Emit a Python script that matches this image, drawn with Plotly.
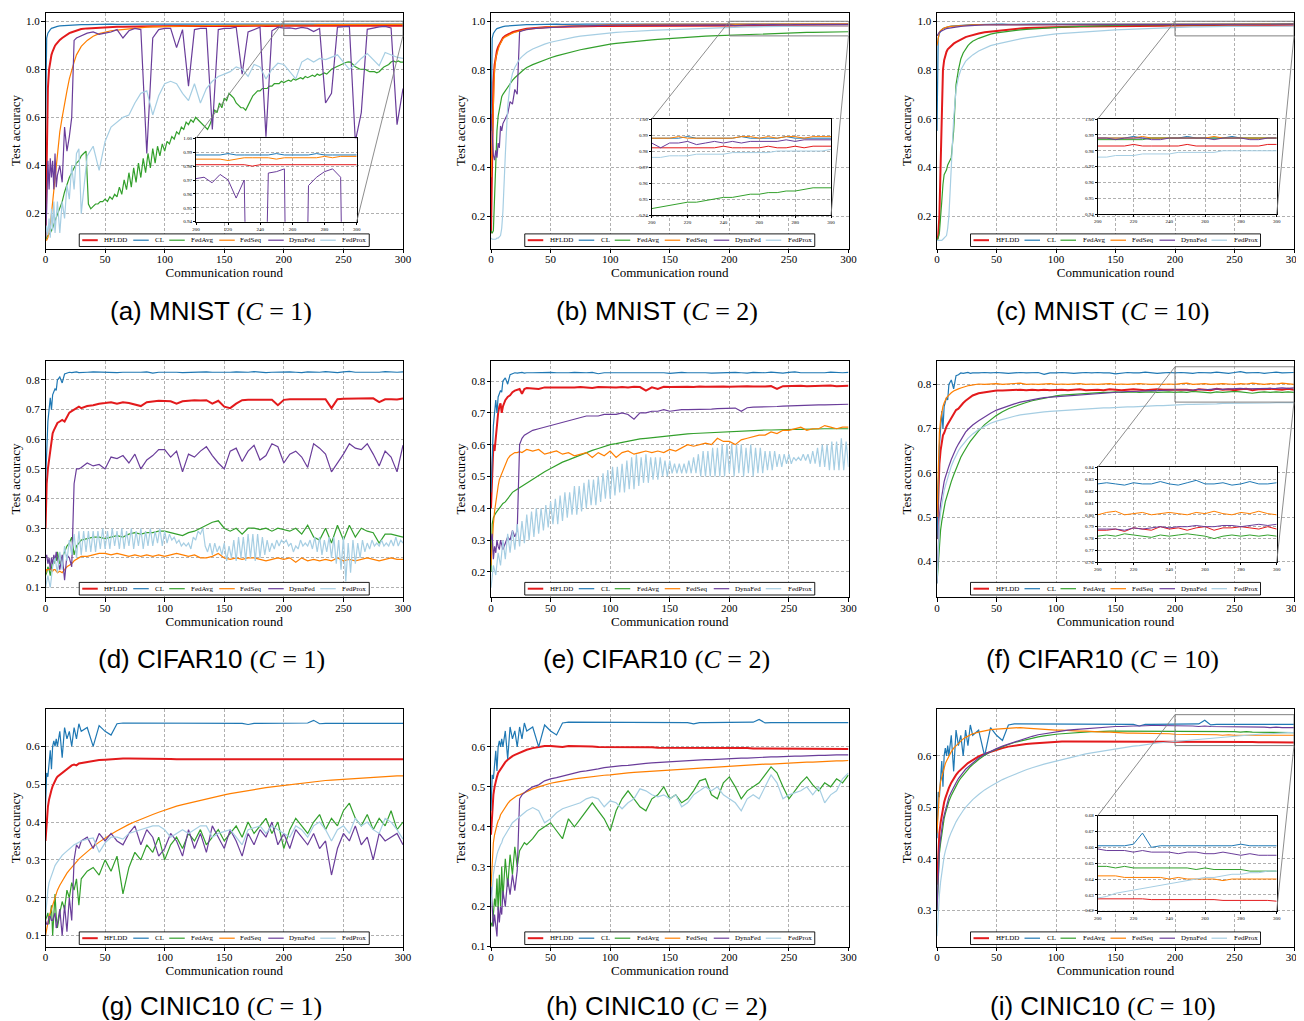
import plotly.graph_objects as go

# ---------------- data ----------------
ROUNDS = list(range(0, 11)) + list(range(12, 31, 2)) + list(range(35, 301, 5))
ROUNDS_DENSE = list(range(0, 301, 2))   # used by the strongly oscillating series

SERIES = ["HFLDD", "CL", "FedAvg", "FedSeq", "DynaFed", "FedProx"]
COLORS = ["#e31a1c", "#1f78b4", "#33a02c", "#ff7f00", "#6a3d9a", "#a6cee3"]
WIDTHS = [2.0, 1.2, 1.2, 1.2, 1.2, 1.2]

X_TICKS = [0, 50, 100, 150, 200, 250, 300]
INSET_X_TICKS = [200, 220, 240, 260, 280, 300]

# ---- MNIST ----
cl_mnist = [
    0.55, 0.93, 0.95, 0.96, 0.965, 0.97, 0.972, 0.974, 0.976, 0.977, 0.978,
    0.980, 0.981, 0.982, 0.983, 0.984, 0.984, 0.985, 0.985, 0.986, 0.986,
    0.986, 0.987, 0.987, 0.987, 0.988, 0.987, 0.988, 0.988, 0.988, 0.988, 0.988, 0.988, 0.988, 0.988,
    0.988, 0.988, 0.989, 0.988, 0.988, 0.988, 0.989, 0.988, 0.988, 0.988, 0.988, 0.989, 0.988, 0.988, 0.988, 0.988, 0.988, 0.989, 0.988, 0.988,
    0.988, 0.988, 0.988, 0.989, 0.988, 0.988, 0.988, 0.988, 0.988, 0.989, 0.988, 0.988, 0.988, 0.988, 0.989, 0.988, 0.988, 0.988, 0.988, 0.988,
]
a_hfldd = [
    0.10, 0.50, 0.72, 0.80, 0.84, 0.86, 0.875, 0.888, 0.898, 0.905, 0.912,
    0.922, 0.930, 0.937, 0.943, 0.950, 0.954, 0.958, 0.961, 0.964, 0.967,
    0.970, 0.972, 0.974, 0.975, 0.976, 0.977, 0.977, 0.978, 0.978, 0.979, 0.979, 0.979, 0.979, 0.980,
    0.980, 0.980, 0.980, 0.980, 0.981, 0.980, 0.981, 0.980, 0.981, 0.981, 0.981, 0.980, 0.981, 0.981, 0.981, 0.981, 0.980, 0.981, 0.981, 0.981,
    0.981, 0.981, 0.981, 0.981, 0.981, 0.981, 0.980, 0.981, 0.981, 0.981, 0.981, 0.981, 0.981, 0.981, 0.981, 0.981, 0.981, 0.981, 0.981, 0.981,
]
a_fedavg = [  # every 2 rounds
    0.09, 0.11, 0.12, 0.14, 0.17, 0.20, 0.23, 0.25, 0.29, 0.32,
    0.35, 0.37, 0.39, 0.41, 0.42, 0.44, 0.45, 0.46, 0.24, 0.22,
    0.23, 0.24, 0.24, 0.25, 0.25, 0.26, 0.25, 0.27, 0.26, 0.28,
    0.27, 0.31, 0.28, 0.34, 0.30, 0.37, 0.31, 0.39, 0.33, 0.41,
    0.35, 0.43, 0.37, 0.45, 0.39, 0.47, 0.41, 0.48, 0.44, 0.49,
    0.46, 0.50, 0.49, 0.52, 0.51, 0.54, 0.53, 0.56, 0.55, 0.58,
    0.57, 0.59, 0.58, 0.60, 0.59, 0.58, 0.57, 0.56, 0.55, 0.57,
    0.60, 0.63, 0.62, 0.66, 0.64, 0.68, 0.67, 0.70, 0.69, 0.68,
    0.66, 0.65, 0.64, 0.64, 0.63, 0.65, 0.67, 0.69, 0.70, 0.71,
    0.71, 0.72, 0.72, 0.72, 0.73, 0.73, 0.74, 0.74, 0.74, 0.75,
    0.745, 0.75, 0.755, 0.75, 0.76, 0.755, 0.76, 0.765, 0.76, 0.77,
    0.765, 0.77, 0.775, 0.77, 0.78, 0.775, 0.78, 0.785, 0.78, 0.79,
    0.80, 0.805, 0.81, 0.815, 0.82, 0.824, 0.828, 0.831, 0.83, 0.82,
    0.81, 0.805, 0.80, 0.80, 0.80, 0.795, 0.79, 0.79, 0.79, 0.785,
    0.79, 0.80, 0.81, 0.815, 0.82, 0.83, 0.835, 0.83, 0.835, 0.83,
    0.83,
]
a_fedseq = [
    0.09, 0.09, 0.10, 0.12, 0.15, 0.20, 0.25, 0.31, 0.37, 0.42, 0.47,
    0.54, 0.60, 0.66, 0.71, 0.76, 0.80, 0.83, 0.86, 0.88, 0.895,
    0.920, 0.937, 0.948, 0.955, 0.960, 0.963, 0.966, 0.969, 0.971, 0.973, 0.975, 0.976, 0.977, 0.978,
    0.979, 0.979, 0.980, 0.980, 0.981, 0.981, 0.982, 0.982, 0.982, 0.983, 0.983, 0.983, 0.984, 0.984, 0.984, 0.984, 0.985, 0.985, 0.985, 0.985,
    0.985, 0.985, 0.985, 0.984, 0.985, 0.986, 0.986, 0.986, 0.986, 0.985, 0.986, 0.986, 0.986, 0.986, 0.986, 0.987, 0.986, 0.987, 0.987, 0.987,
]
a_dynafed = [
    0.10, 0.22, 0.42, 0.30, 0.43, 0.35, 0.42, 0.30, 0.45, 0.31, 0.36,
    0.40, 0.33, 0.56, 0.46, 0.52, 0.60, 0.92, 0.93, 0.935, 0.94,
    0.95, 0.955, 0.945, 0.95, 0.955, 0.965, 0.93, 0.96, 0.97, 0.965, 0.45, 0.93, 0.965, 0.97,
    0.97, 0.89, 0.965, 0.73, 0.965, 0.97, 0.97, 0.55, 0.965, 0.97, 0.97, 0.975, 0.78, 0.955, 0.965, 0.975, 0.52, 0.96, 0.975, 0.971,
    0.972, 0.968, 0.974, 0.970, 0.957, 0.970, 0.66, 0.70, 0.975, 0.976, 0.978, 0.50, 0.62, 0.966, 0.972, 0.976, 0.978, 0.972, 0.57, 0.72,
]
a_fedprox = [
    0.10, 0.15, 0.11, 0.18, 0.10, 0.22, 0.13, 0.25, 0.12, 0.20, 0.25,
    0.12, 0.25, 0.18, 0.32, 0.26, 0.40, 0.30, 0.45, 0.47, 0.20,
    0.44, 0.48, 0.38, 0.50, 0.56, 0.58, 0.60, 0.61, 0.66, 0.70, 0.71, 0.61, 0.69, 0.74,
    0.75, 0.74, 0.70, 0.67, 0.74, 0.66, 0.72, 0.75, 0.77, 0.78, 0.79, 0.81, 0.80, 0.77, 0.82, 0.81, 0.76, 0.80, 0.825, 0.82,
    0.79, 0.76, 0.83, 0.845, 0.83, 0.845, 0.84, 0.85, 0.86, 0.83, 0.80, 0.82, 0.845, 0.865, 0.84, 0.815, 0.87, 0.86, 0.85, 0.845,
]

b_hfldd = [
    0.13, 0.55, 0.75, 0.82, 0.86, 0.88, 0.895, 0.905, 0.915, 0.925, 0.932,
    0.940, 0.946, 0.951, 0.955, 0.958, 0.961, 0.963, 0.965, 0.967, 0.969,
    0.972, 0.974, 0.975, 0.976, 0.977, 0.978, 0.979, 0.979, 0.980, 0.980, 0.981, 0.981, 0.981, 0.981,
    0.981, 0.981, 0.982, 0.982, 0.982, 0.982, 0.982, 0.982, 0.982, 0.982, 0.982, 0.982, 0.982, 0.982, 0.982, 0.982, 0.982, 0.982, 0.982, 0.982,
    0.982, 0.982, 0.982, 0.982, 0.982, 0.982, 0.982, 0.983, 0.982, 0.982, 0.982, 0.982, 0.983, 0.982, 0.982, 0.983, 0.982, 0.983, 0.983, 0.983,
]
b_fedavg = [
    0.14, 0.13, 0.14, 0.30, 0.45, 0.55, 0.61, 0.64, 0.67, 0.69, 0.70,
    0.715, 0.73, 0.745, 0.757, 0.768, 0.778, 0.787, 0.795, 0.803, 0.81,
    0.822, 0.832, 0.841, 0.850, 0.858, 0.865, 0.871, 0.877, 0.883, 0.888, 0.893, 0.898, 0.902, 0.906,
    0.909, 0.912, 0.915, 0.918, 0.920, 0.922, 0.924, 0.926, 0.928, 0.930, 0.932, 0.934, 0.935, 0.937, 0.938, 0.939, 0.940, 0.941, 0.942, 0.944,
    0.945, 0.946, 0.947, 0.948, 0.948, 0.949, 0.950, 0.951, 0.951, 0.952, 0.953, 0.953, 0.954, 0.954, 0.955, 0.955, 0.956, 0.957, 0.957, 0.957,
]
b_fedseq = [
    0.36, 0.50, 0.70, 0.80, 0.85, 0.87, 0.89, 0.90, 0.91, 0.92, 0.928,
    0.936, 0.942, 0.947, 0.951, 0.955, 0.958, 0.961, 0.963, 0.965, 0.967,
    0.970, 0.973, 0.975, 0.977, 0.978, 0.979, 0.980, 0.981, 0.982, 0.983, 0.983, 0.984, 0.985, 0.985,
    0.985, 0.986, 0.986, 0.986, 0.987, 0.987, 0.987, 0.987, 0.987, 0.988, 0.988, 0.988, 0.988, 0.988, 0.988, 0.988, 0.988, 0.988, 0.988, 0.988,
    0.988, 0.988, 0.989, 0.988, 0.988, 0.988, 0.988, 0.988, 0.988, 0.989, 0.989, 0.988, 0.989, 0.988, 0.989, 0.989, 0.988, 0.989, 0.989, 0.989,
]
b_dynafed = [
    0.62, 0.50, 0.45, 0.43, 0.47, 0.44, 0.50, 0.48, 0.57, 0.55, 0.58,
    0.60, 0.62, 0.67, 0.66, 0.72, 0.70, 0.957, 0.960, 0.963, 0.966,
    0.970, 0.972, 0.974, 0.976, 0.977, 0.978, 0.979, 0.980, 0.981, 0.981, 0.982, 0.983, 0.983, 0.984,
    0.984, 0.984, 0.984, 0.985, 0.985, 0.985, 0.985, 0.985, 0.985, 0.985, 0.986, 0.985, 0.986, 0.986, 0.986, 0.986, 0.986, 0.986, 0.985, 0.985,
    0.982, 0.985, 0.985, 0.986, 0.984, 0.985, 0.986, 0.985, 0.986, 0.985, 0.986, 0.986, 0.986, 0.986, 0.987, 0.986, 0.987, 0.987, 0.987, 0.987,
]
b_fedprox = [
    0.11, 0.105, 0.105, 0.105, 0.105, 0.11, 0.11, 0.115, 0.12, 0.15, 0.22,
    0.45, 0.65, 0.74, 0.785, 0.81, 0.83, 0.845, 0.855, 0.865, 0.872,
    0.886, 0.897, 0.906, 0.914, 0.920, 0.926, 0.931, 0.935, 0.939, 0.942, 0.945, 0.948, 0.950, 0.952,
    0.954, 0.956, 0.958, 0.959, 0.961, 0.962, 0.963, 0.964, 0.965, 0.966, 0.967, 0.968, 0.969, 0.970, 0.971, 0.972, 0.973, 0.974, 0.975, 0.976,
    0.976, 0.977, 0.977, 0.977, 0.978, 0.978, 0.978, 0.978, 0.979, 0.979, 0.979, 0.979, 0.979, 0.980, 0.980, 0.980, 0.980, 0.980, 0.980, 0.981,
]

c_hfldd = [
    0.10, 0.12, 0.20, 0.45, 0.70, 0.80, 0.84, 0.86, 0.875, 0.885, 0.89,
    0.90, 0.908, 0.914, 0.92, 0.925, 0.93, 0.935, 0.938, 0.941, 0.944,
    0.950, 0.955, 0.958, 0.961, 0.964, 0.966, 0.968, 0.970, 0.972, 0.973, 0.974, 0.975, 0.976, 0.977,
    0.977, 0.978, 0.978, 0.979, 0.979, 0.979, 0.980, 0.980, 0.980, 0.981, 0.981, 0.981, 0.981, 0.982, 0.982, 0.982, 0.982, 0.982, 0.983, 0.983,
    0.983, 0.983, 0.983, 0.984, 0.983, 0.983, 0.983, 0.983, 0.983, 0.984, 0.983, 0.983, 0.983, 0.983, 0.983, 0.983, 0.983, 0.983, 0.984, 0.984,
]
c_fedavg = [
    0.10, 0.11, 0.13, 0.18, 0.26, 0.33, 0.37, 0.38, 0.39, 0.41, 0.42,
    0.44, 0.55, 0.74, 0.80, 0.845, 0.87, 0.887, 0.90, 0.91, 0.918,
    0.930, 0.940, 0.947, 0.952, 0.956, 0.959, 0.962, 0.965, 0.967, 0.969, 0.971, 0.973, 0.974, 0.975,
    0.976, 0.977, 0.978, 0.979, 0.980, 0.981, 0.981, 0.982, 0.983, 0.983, 0.984, 0.984, 0.985, 0.985, 0.985, 0.986, 0.986, 0.986, 0.987, 0.987,
    0.987, 0.987, 0.987, 0.987, 0.987, 0.988, 0.988, 0.988, 0.988, 0.988, 0.988, 0.988, 0.988, 0.988, 0.988, 0.988, 0.988, 0.988, 0.988, 0.988,
]
c_fedseq = [
    0.90, 0.94, 0.955, 0.962, 0.966, 0.970, 0.972, 0.974, 0.976, 0.977, 0.978,
    0.979, 0.980, 0.981, 0.982, 0.983, 0.983, 0.984, 0.984, 0.985, 0.985,
    0.986, 0.986, 0.987, 0.987, 0.987, 0.987, 0.988, 0.988, 0.988, 0.988, 0.988, 0.988, 0.988, 0.988,
    0.988, 0.988, 0.988, 0.989, 0.988, 0.988, 0.988, 0.988, 0.988, 0.988, 0.989, 0.988, 0.988, 0.988, 0.988, 0.988, 0.988, 0.989, 0.988, 0.988,
    0.988, 0.988, 0.988, 0.988, 0.989, 0.988, 0.988, 0.988, 0.988, 0.988, 0.988, 0.988, 0.989, 0.988, 0.988, 0.988, 0.988, 0.988, 0.988, 0.988,
]
c_dynafed = [
    0.94, 0.95, 0.955, 0.958, 0.961, 0.964, 0.966, 0.968, 0.970, 0.971, 0.972,
    0.974, 0.976, 0.977, 0.978, 0.979, 0.980, 0.981, 0.982, 0.982, 0.983,
    0.984, 0.985, 0.985, 0.986, 0.986, 0.986, 0.987, 0.987, 0.987, 0.987, 0.987, 0.987, 0.987, 0.987,
    0.987, 0.988, 0.987, 0.988, 0.987, 0.988, 0.988, 0.987, 0.988, 0.988, 0.987, 0.988, 0.988, 0.988, 0.987, 0.988, 0.988, 0.988, 0.987, 0.988,
    0.988, 0.987, 0.988, 0.988, 0.988, 0.987, 0.987, 0.988, 0.988, 0.988, 0.988, 0.988, 0.987, 0.988, 0.988, 0.988, 0.987, 0.987, 0.988, 0.988,
]
c_fedprox = [
    0.10, 0.10, 0.10, 0.10, 0.10, 0.105, 0.11, 0.115, 0.12, 0.15, 0.20,
    0.40, 0.60, 0.72, 0.77, 0.80, 0.82, 0.835, 0.845, 0.855, 0.862,
    0.878, 0.890, 0.900, 0.906, 0.912, 0.918, 0.923, 0.928, 0.932, 0.936, 0.939, 0.942, 0.945, 0.948,
    0.950, 0.952, 0.954, 0.956, 0.958, 0.960, 0.961, 0.962, 0.964, 0.965, 0.966, 0.967, 0.968, 0.969, 0.970, 0.971, 0.972, 0.973, 0.974, 0.976,
    0.976, 0.977, 0.977, 0.977, 0.978, 0.978, 0.978, 0.978, 0.979, 0.979, 0.979, 0.979, 0.979, 0.980, 0.980, 0.980, 0.980, 0.980, 0.980, 0.980,
]

# ---- CIFAR10 ----
cl_cifar = [
    0.45, 0.60, 0.66, 0.70, 0.74, 0.70, 0.75, 0.76, 0.77, 0.765, 0.80,
    0.81, 0.79, 0.82, 0.822, 0.826, 0.825, 0.826, 0.827, 0.825, 0.826,
    0.826, 0.827, 0.826, 0.827, 0.826, 0.825, 0.826, 0.827, 0.826, 0.826, 0.827, 0.823, 0.826, 0.826,
    0.827, 0.826, 0.825, 0.826, 0.827, 0.826, 0.827, 0.826, 0.826, 0.824, 0.826, 0.827, 0.826, 0.826, 0.828, 0.826, 0.825, 0.826, 0.827, 0.826,
    0.827, 0.826, 0.825, 0.827, 0.826, 0.826, 0.828, 0.826, 0.825, 0.827, 0.829, 0.826, 0.826, 0.827, 0.825, 0.826, 0.828, 0.826, 0.826, 0.827,
]
d_hfldd = [
    0.30, 0.45, 0.50, 0.53, 0.56, 0.60, 0.62, 0.63, 0.64, 0.645, 0.655,
    0.66, 0.665, 0.66, 0.675, 0.69, 0.695, 0.70, 0.703, 0.71, 0.705,
    0.712, 0.715, 0.72, 0.722, 0.725, 0.72, 0.725, 0.722, 0.718, 0.712, 0.725, 0.728, 0.73, 0.729,
    0.728, 0.72, 0.728, 0.73, 0.732, 0.731, 0.732, 0.72, 0.73, 0.71, 0.705, 0.72, 0.732, 0.733, 0.733, 0.735, 0.733, 0.733, 0.715, 0.733,
    0.735, 0.735, 0.735, 0.734, 0.736, 0.735, 0.735, 0.705, 0.735, 0.737, 0.737, 0.738, 0.736, 0.737, 0.738, 0.725, 0.735, 0.735, 0.734, 0.738,
]
d_fedavg = [
    0.14, 0.15, 0.17, 0.16, 0.14, 0.17, 0.19, 0.18, 0.20, 0.19, 0.22,
    0.18, 0.20, 0.22, 0.24, 0.25, 0.27, 0.21, 0.24, 0.25, 0.26,
    0.265, 0.27, 0.27, 0.265, 0.27, 0.275, 0.27, 0.28, 0.285, 0.28, 0.285, 0.285, 0.29, 0.29,
    0.285, 0.28, 0.275, 0.285, 0.29, 0.30, 0.31, 0.32, 0.325, 0.30, 0.29, 0.30, 0.28, 0.30, 0.30, 0.295, 0.30, 0.29, 0.30, 0.295,
    0.29, 0.30, 0.28, 0.31, 0.27, 0.26, 0.30, 0.25, 0.31, 0.26, 0.31, 0.27, 0.30, 0.29, 0.285, 0.25, 0.28, 0.28, 0.275, 0.27,
]
d_fedseq = [
    0.15, 0.16, 0.16, 0.16, 0.165, 0.16, 0.155, 0.16, 0.16, 0.155, 0.15,
    0.155, 0.15, 0.16, 0.17, 0.175, 0.18, 0.19, 0.195, 0.20, 0.205,
    0.205, 0.21, 0.215, 0.215, 0.21, 0.215, 0.21, 0.205, 0.21, 0.205, 0.21, 0.205, 0.21, 0.205,
    0.21, 0.215, 0.21, 0.205, 0.21, 0.20, 0.20, 0.205, 0.215, 0.20, 0.195, 0.20, 0.195, 0.20, 0.20, 0.195, 0.19, 0.195, 0.20, 0.195,
    0.20, 0.185, 0.20, 0.19, 0.195, 0.19, 0.195, 0.19, 0.20, 0.19, 0.195, 0.19, 0.195, 0.20, 0.195, 0.19, 0.195, 0.20, 0.195, 0.195,
]
d_dynafed = [
    0.20, 0.21, 0.18, 0.20, 0.16, 0.20, 0.18, 0.21, 0.19, 0.22, 0.20,
    0.16, 0.21, 0.125, 0.21, 0.20, 0.17, 0.45, 0.50, 0.50, 0.505,
    0.52, 0.51, 0.515, 0.50, 0.54, 0.535, 0.545, 0.52, 0.55, 0.50, 0.53, 0.545, 0.565, 0.565,
    0.54, 0.56, 0.49, 0.55, 0.54, 0.56, 0.575, 0.545, 0.52, 0.50, 0.56, 0.57, 0.525, 0.56, 0.58, 0.53, 0.545, 0.585, 0.575, 0.52,
    0.55, 0.56, 0.54, 0.505, 0.585, 0.57, 0.55, 0.49, 0.52, 0.55, 0.585, 0.57, 0.565, 0.585, 0.55, 0.51, 0.56, 0.54, 0.49, 0.58,
]
d_fedprox = [  # every 2 rounds
    0.10, 0.14, 0.10, 0.17, 0.20, 0.15, 0.22, 0.16, 0.24, 0.19,
    0.26, 0.21, 0.28, 0.20, 0.29, 0.21, 0.29, 0.22, 0.29, 0.22,
    0.29, 0.22, 0.29, 0.23, 0.30, 0.23, 0.29, 0.23, 0.30, 0.24,
    0.29, 0.23, 0.30, 0.23, 0.29, 0.24, 0.30, 0.23, 0.29, 0.24,
    0.30, 0.23, 0.29, 0.24, 0.30, 0.24, 0.29, 0.25, 0.30, 0.24,
    0.29, 0.25, 0.28, 0.26, 0.27, 0.25, 0.26, 0.24, 0.25, 0.24,
    0.25, 0.23, 0.27, 0.26, 0.29, 0.28, 0.30, 0.24, 0.22, 0.25,
    0.21, 0.25, 0.22, 0.24, 0.21, 0.25, 0.19, 0.24, 0.20, 0.26,
    0.19, 0.27, 0.20, 0.27, 0.19, 0.28, 0.20, 0.28, 0.19, 0.28,
    0.20, 0.27, 0.21, 0.26, 0.22, 0.25, 0.23, 0.26, 0.24, 0.26,
    0.25, 0.26, 0.24, 0.25, 0.22, 0.24, 0.23, 0.26, 0.24, 0.25,
    0.24, 0.26, 0.23, 0.27, 0.22, 0.27, 0.21, 0.26, 0.22, 0.27,
    0.20, 0.27, 0.18, 0.26, 0.16, 0.27, 0.12, 0.25, 0.15, 0.26,
    0.18, 0.25, 0.20, 0.26, 0.22, 0.25, 0.23, 0.26, 0.24, 0.25,
    0.24, 0.26, 0.24, 0.25, 0.24, 0.26, 0.24, 0.27, 0.24, 0.26,
    0.25,
]

e_hfldd = [
    0.40, 0.50, 0.60, 0.58, 0.62, 0.68, 0.70, 0.72, 0.73, 0.70, 0.72,
    0.74, 0.75, 0.755, 0.765, 0.77, 0.772, 0.775, 0.76, 0.775, 0.778,
    0.777, 0.775, 0.78, 0.78, 0.778, 0.78, 0.779, 0.78, 0.781, 0.78, 0.778, 0.781, 0.78, 0.781,
    0.78, 0.781, 0.78, 0.782, 0.781, 0.77, 0.78, 0.775, 0.782, 0.781, 0.782, 0.783, 0.782, 0.781, 0.783, 0.782, 0.783, 0.782, 0.783, 0.782,
    0.783, 0.782, 0.784, 0.783, 0.782, 0.783, 0.784, 0.775, 0.784, 0.785, 0.784, 0.785, 0.784, 0.785, 0.784, 0.785, 0.786, 0.784, 0.785, 0.785,
]
e_fedavg = [
    0.20, 0.35, 0.37, 0.38, 0.385, 0.39, 0.395, 0.40, 0.405, 0.41, 0.415,
    0.42, 0.43, 0.44, 0.45, 0.455, 0.46, 0.465, 0.47, 0.475, 0.48,
    0.49, 0.505, 0.515, 0.525, 0.535, 0.545, 0.552, 0.56, 0.568, 0.575, 0.582, 0.588, 0.594, 0.60,
    0.603, 0.607, 0.611, 0.615, 0.618, 0.62, 0.622, 0.625, 0.627, 0.63, 0.631, 0.632, 0.634, 0.635, 0.636, 0.638, 0.639, 0.64, 0.641, 0.642,
    0.642, 0.643, 0.644, 0.645, 0.645, 0.646, 0.646, 0.647, 0.647, 0.648, 0.648, 0.648, 0.649, 0.649, 0.649, 0.65, 0.65, 0.65, 0.65, 0.65,
]
e_fedseq = [
    0.22, 0.30, 0.35, 0.39, 0.42, 0.45, 0.47, 0.49, 0.50, 0.51, 0.52,
    0.54, 0.555, 0.565, 0.57, 0.575, 0.575, 0.578, 0.575, 0.58, 0.585,
    0.58, 0.585, 0.57, 0.575, 0.58, 0.57, 0.575, 0.565, 0.57, 0.575, 0.56, 0.575, 0.565, 0.58,
    0.56, 0.575, 0.58, 0.57, 0.575, 0.58, 0.575, 0.58, 0.575, 0.585, 0.58, 0.59, 0.60, 0.595, 0.60, 0.605, 0.60, 0.62, 0.61, 0.61,
    0.60, 0.615, 0.62, 0.625, 0.63, 0.63, 0.64, 0.635, 0.645, 0.645, 0.65, 0.655, 0.645, 0.65, 0.65, 0.66, 0.655, 0.65, 0.655, 0.655,
]
e_dynafed = [
    0.30, 0.32, 0.24, 0.28, 0.26, 0.30, 0.28, 0.27, 0.30, 0.28, 0.27,
    0.29, 0.31, 0.30, 0.33, 0.31, 0.33, 0.60, 0.62, 0.63, 0.635,
    0.645, 0.65, 0.655, 0.66, 0.665, 0.67, 0.675, 0.68, 0.685, 0.69, 0.69, 0.69, 0.695, 0.695,
    0.695, 0.70, 0.695, 0.68, 0.70, 0.70, 0.705, 0.705, 0.71, 0.705, 0.708, 0.71, 0.71, 0.71, 0.711, 0.712, 0.712, 0.713, 0.714, 0.715,
    0.715, 0.705, 0.716, 0.718, 0.718, 0.719, 0.72, 0.72, 0.721, 0.722, 0.722, 0.723, 0.723, 0.724, 0.725, 0.725, 0.726, 0.726, 0.727, 0.727,
]
e_fedprox = [  # every 2 rounds
    0.15, 0.22, 0.19, 0.26, 0.22, 0.30, 0.24, 0.32, 0.26, 0.33,
    0.27, 0.35, 0.28, 0.36, 0.29, 0.38, 0.30, 0.39, 0.31, 0.40,
    0.32, 0.40, 0.33, 0.41, 0.34, 0.42, 0.35, 0.43, 0.35, 0.44,
    0.36, 0.45, 0.37, 0.45, 0.38, 0.47, 0.38, 0.47, 0.39, 0.48,
    0.40, 0.49, 0.41, 0.49, 0.41, 0.50, 0.42, 0.51, 0.43, 0.52,
    0.43, 0.53, 0.44, 0.53, 0.45, 0.54, 0.45, 0.55, 0.46, 0.56,
    0.46, 0.57, 0.47, 0.56, 0.48, 0.57, 0.48, 0.56, 0.49, 0.56,
    0.49, 0.56, 0.50, 0.55, 0.50, 0.55, 0.51, 0.54, 0.51, 0.54,
    0.51, 0.54, 0.51, 0.55, 0.51, 0.56, 0.51, 0.57, 0.50, 0.58,
    0.50, 0.58, 0.50, 0.59, 0.50, 0.59, 0.50, 0.60, 0.50, 0.60,
    0.51, 0.60, 0.50, 0.60, 0.51, 0.60, 0.50, 0.59, 0.51, 0.60,
    0.50, 0.59, 0.51, 0.59, 0.51, 0.58, 0.52, 0.58, 0.52, 0.58,
    0.53, 0.57, 0.53, 0.57, 0.54, 0.57, 0.54, 0.56, 0.55, 0.56,
    0.55, 0.57, 0.55, 0.57, 0.54, 0.58, 0.54, 0.59, 0.53, 0.60,
    0.53, 0.60, 0.52, 0.61, 0.52, 0.61, 0.52, 0.62, 0.52, 0.61,
    0.53,
]

f_hfldd = [
    0.45, 0.56, 0.62, 0.65, 0.67, 0.685, 0.69, 0.70, 0.705, 0.71, 0.715,
    0.725, 0.735, 0.742, 0.745, 0.752, 0.758, 0.763, 0.767, 0.772, 0.775,
    0.780, 0.782, 0.784, 0.786, 0.786, 0.787, 0.787, 0.788, 0.787, 0.788, 0.787, 0.788, 0.787, 0.788,
    0.788, 0.787, 0.788, 0.789, 0.787, 0.788, 0.788, 0.787, 0.789, 0.788, 0.787, 0.788, 0.789, 0.788, 0.787, 0.788, 0.789, 0.788, 0.788, 0.787,
    0.787, 0.788, 0.786, 0.789, 0.788, 0.787, 0.790, 0.788, 0.789, 0.787, 0.789, 0.790, 0.787, 0.789, 0.789, 0.790, 0.789, 0.788, 0.790, 0.788,
]
f_fedavg = [
    0.35, 0.40, 0.44, 0.47, 0.49, 0.51, 0.52, 0.535, 0.545, 0.555, 0.565,
    0.58, 0.595, 0.61, 0.625, 0.635, 0.645, 0.655, 0.663, 0.671, 0.678,
    0.695, 0.709, 0.72, 0.73, 0.738, 0.745, 0.75, 0.755, 0.759, 0.763, 0.766, 0.769, 0.772, 0.774,
    0.776, 0.777, 0.778, 0.779, 0.78, 0.781, 0.781, 0.782, 0.782, 0.783, 0.782, 0.783, 0.783, 0.782, 0.783, 0.783, 0.782, 0.783, 0.783, 0.782,
    0.783, 0.782, 0.784, 0.783, 0.782, 0.781, 0.783, 0.782, 0.783, 0.784, 0.783, 0.782, 0.780, 0.782, 0.783, 0.782, 0.783, 0.782, 0.783, 0.782,
]
f_fedseq = [
    0.50, 0.62, 0.69, 0.72, 0.74, 0.75, 0.758, 0.765, 0.77, 0.773, 0.776,
    0.781, 0.785, 0.788, 0.79, 0.792, 0.794, 0.796, 0.797, 0.798, 0.799,
    0.801, 0.80, 0.801, 0.802, 0.80, 0.801, 0.801, 0.803, 0.80, 0.801, 0.80, 0.801, 0.802, 0.80,
    0.801, 0.80, 0.801, 0.802, 0.80, 0.801, 0.80, 0.801, 0.802, 0.80, 0.801, 0.80, 0.801, 0.802, 0.801, 0.80, 0.801, 0.80, 0.801, 0.80,
    0.802, 0.803, 0.80, 0.801, 0.802, 0.80, 0.801, 0.802, 0.801, 0.80, 0.802, 0.801, 0.803, 0.801, 0.80, 0.802, 0.801, 0.803, 0.801, 0.80,
]
f_dynafed = [
    0.35, 0.45, 0.50, 0.53, 0.55, 0.565, 0.58, 0.59, 0.60, 0.61, 0.615,
    0.63, 0.645, 0.655, 0.665, 0.675, 0.685, 0.692, 0.698, 0.703, 0.708,
    0.718, 0.727, 0.735, 0.742, 0.747, 0.752, 0.756, 0.76, 0.763, 0.766, 0.768, 0.77, 0.771, 0.773,
    0.774, 0.775, 0.776, 0.777, 0.778, 0.779, 0.78, 0.781, 0.782, 0.782, 0.783, 0.784, 0.784, 0.785, 0.785, 0.786, 0.786, 0.787, 0.787, 0.788,
    0.788, 0.788, 0.787, 0.789, 0.788, 0.789, 0.79, 0.789, 0.79, 0.79, 0.791, 0.79, 0.79, 0.791, 0.791, 0.79, 0.791, 0.792, 0.791, 0.792,
]
f_fedprox = [
    0.35, 0.43, 0.48, 0.51, 0.53, 0.545, 0.56, 0.57, 0.58, 0.59, 0.60,
    0.615, 0.628, 0.64, 0.65, 0.658, 0.665, 0.672, 0.678, 0.683, 0.688,
    0.698, 0.706, 0.712, 0.717, 0.721, 0.725, 0.728, 0.731, 0.733, 0.735, 0.737, 0.738, 0.739, 0.74,
    0.741, 0.742, 0.743, 0.744, 0.745, 0.746, 0.746, 0.747, 0.747, 0.748, 0.748, 0.749, 0.749, 0.75, 0.75, 0.751, 0.752, 0.752, 0.753, 0.754,
    0.754, 0.755, 0.755, 0.755, 0.756, 0.756, 0.756, 0.757, 0.757, 0.757, 0.757, 0.758, 0.758, 0.758, 0.758, 0.758, 0.759, 0.759, 0.759, 0.759,
]

# ---- CINIC10 ----
cl_cinic = [
    0.44, 0.53, 0.52, 0.57, 0.59, 0.54, 0.60, 0.615, 0.60, 0.62, 0.60,
    0.64, 0.57, 0.65, 0.62, 0.64, 0.60, 0.65, 0.62, 0.66, 0.64,
    0.65, 0.60, 0.655, 0.64, 0.63, 0.66, 0.662, 0.662, 0.662, 0.662, 0.661, 0.662, 0.662, 0.662,
    0.662, 0.662, 0.661, 0.662, 0.662, 0.662, 0.662, 0.661, 0.661, 0.661, 0.661, 0.661, 0.661, 0.658, 0.661, 0.661, 0.661, 0.661, 0.661, 0.661,
    0.661, 0.661, 0.661, 0.662, 0.669, 0.660, 0.661, 0.661, 0.661, 0.661, 0.661, 0.661, 0.661, 0.661, 0.661, 0.662, 0.661, 0.661, 0.661, 0.661,
]
g_hfldd = [
    0.35, 0.41, 0.44, 0.46, 0.475, 0.485, 0.495, 0.503, 0.51, 0.515, 0.52,
    0.525, 0.53, 0.535, 0.54, 0.545, 0.55, 0.552, 0.55, 0.555, 0.556,
    0.558, 0.562, 0.564, 0.565, 0.566, 0.568, 0.568, 0.568, 0.568, 0.568, 0.567, 0.567, 0.567, 0.567,
    0.567, 0.566, 0.566, 0.566, 0.566, 0.566, 0.566, 0.566, 0.566, 0.566, 0.566, 0.566, 0.566, 0.566, 0.566, 0.566, 0.566, 0.566, 0.566, 0.566,
    0.566, 0.566, 0.566, 0.566, 0.566, 0.566, 0.566, 0.566, 0.566, 0.566, 0.566, 0.566, 0.566, 0.566, 0.566, 0.566, 0.566, 0.566, 0.566, 0.566,
]
g_fedavg = [
    0.14, 0.15, 0.16, 0.13, 0.15, 0.18, 0.10, 0.17, 0.21, 0.15, 0.12,
    0.16, 0.19, 0.17, 0.22, 0.20, 0.24, 0.22, 0.25, 0.18, 0.25,
    0.27, 0.28, 0.26, 0.30, 0.27, 0.31, 0.21, 0.28, 0.32, 0.30, 0.34, 0.32, 0.36, 0.30,
    0.34, 0.36, 0.33, 0.37, 0.35, 0.38, 0.34, 0.36, 0.38, 0.35, 0.37, 0.39, 0.36, 0.40, 0.37, 0.39, 0.41, 0.37, 0.40, 0.33,
    0.38, 0.41, 0.39, 0.37, 0.40, 0.42, 0.38, 0.41, 0.39, 0.43, 0.45, 0.41, 0.39, 0.42, 0.38, 0.41, 0.39, 0.43, 0.38, 0.40,
]
g_fedseq = [
    0.10, 0.12, 0.135, 0.15, 0.16, 0.17, 0.18, 0.19, 0.20, 0.21, 0.22,
    0.233, 0.245, 0.255, 0.265, 0.273, 0.281, 0.289, 0.296, 0.302, 0.308,
    0.322, 0.335, 0.347, 0.358, 0.368, 0.377, 0.386, 0.394, 0.401, 0.408, 0.414, 0.42, 0.426, 0.432,
    0.437, 0.442, 0.446, 0.45, 0.454, 0.458, 0.462, 0.466, 0.469, 0.472, 0.475, 0.478, 0.481, 0.484, 0.487, 0.489, 0.491, 0.493, 0.495, 0.497,
    0.499, 0.501, 0.503, 0.505, 0.507, 0.508, 0.51, 0.511, 0.512, 0.514, 0.515, 0.516, 0.517, 0.518, 0.519, 0.52, 0.52, 0.521, 0.522, 0.522,
]
g_dynafed = [
    0.14, 0.13, 0.13, 0.15, 0.15, 0.14, 0.14, 0.15, 0.16, 0.12, 0.13,
    0.17, 0.10, 0.18, 0.11, 0.20, 0.14, 0.30, 0.34, 0.33, 0.35,
    0.36, 0.33, 0.37, 0.35, 0.37, 0.35, 0.34, 0.37, 0.39, 0.34, 0.38, 0.36, 0.31, 0.33,
    0.37, 0.35, 0.31, 0.38, 0.33, 0.37, 0.32, 0.39, 0.36, 0.33, 0.38, 0.35, 0.31, 0.37, 0.34, 0.38, 0.36, 0.40, 0.34, 0.37,
    0.33, 0.38, 0.36, 0.34, 0.37, 0.33, 0.35, 0.26, 0.33, 0.37, 0.35, 0.39, 0.34, 0.36, 0.30, 0.37, 0.35, 0.36, 0.37, 0.34,
]
g_fedprox = [
    0.15, 0.20, 0.22, 0.24, 0.25, 0.26, 0.27, 0.28, 0.285, 0.29, 0.295,
    0.305, 0.312, 0.318, 0.324, 0.33, 0.335, 0.34, 0.343, 0.346, 0.35,
    0.355, 0.358, 0.32, 0.345, 0.36, 0.36, 0.355, 0.37, 0.375, 0.38, 0.385, 0.39, 0.39, 0.38,
    0.36, 0.37, 0.38, 0.37, 0.38, 0.39, 0.39, 0.36, 0.37, 0.375, 0.38, 0.36, 0.34, 0.38, 0.385, 0.39, 0.37, 0.39, 0.38, 0.37,
    0.36, 0.39, 0.38, 0.36, 0.39, 0.40, 0.38, 0.35, 0.38, 0.39, 0.37, 0.41, 0.39, 0.40, 0.38, 0.37, 0.41, 0.40, 0.38, 0.355,
]

h_hfldd = [
    0.38, 0.45, 0.48, 0.50, 0.515, 0.525, 0.535, 0.54, 0.545, 0.55, 0.555,
    0.562, 0.568, 0.573, 0.577, 0.58, 0.583, 0.586, 0.589, 0.591, 0.593,
    0.597, 0.60, 0.602, 0.602, 0.601, 0.60, 0.602, 0.602, 0.601, 0.601, 0.601, 0.60, 0.60, 0.60,
    0.60, 0.60, 0.599, 0.599, 0.599, 0.599, 0.599, 0.598, 0.598, 0.598, 0.598, 0.598, 0.598, 0.598, 0.597, 0.597, 0.597, 0.597, 0.597, 0.597,
    0.597, 0.597, 0.597, 0.596, 0.596, 0.596, 0.596, 0.596, 0.596, 0.596, 0.596, 0.596, 0.596, 0.595, 0.595, 0.595, 0.595, 0.595, 0.595, 0.595,
]
h_fedavg = [
    0.16, 0.15, 0.18, 0.22, 0.20, 0.27, 0.19, 0.28, 0.20, 0.30, 0.22,
    0.32, 0.25, 0.33, 0.28, 0.35, 0.30, 0.34, 0.35, 0.36, 0.355,
    0.37, 0.39, 0.40, 0.41, 0.39, 0.37, 0.42, 0.40, 0.42, 0.44, 0.46, 0.44, 0.42, 0.39,
    0.44, 0.47, 0.49, 0.47, 0.45, 0.44, 0.47, 0.48, 0.50, 0.47, 0.48, 0.46, 0.47, 0.49, 0.515, 0.52, 0.48, 0.47, 0.51, 0.525,
    0.50, 0.47, 0.49, 0.50, 0.51, 0.53, 0.55, 0.535, 0.50, 0.47, 0.49, 0.51, 0.525, 0.505, 0.49, 0.51, 0.50, 0.52, 0.51, 0.53,
]
h_fedseq = [
    0.25, 0.33, 0.36, 0.38, 0.395, 0.405, 0.415, 0.42, 0.43, 0.435, 0.44,
    0.45, 0.458, 0.465, 0.47, 0.475, 0.478, 0.48, 0.483, 0.485, 0.488,
    0.495, 0.50, 0.505, 0.509, 0.512, 0.515, 0.518, 0.52, 0.522, 0.524, 0.526, 0.527, 0.529, 0.53,
    0.532, 0.533, 0.535, 0.536, 0.537, 0.538, 0.539, 0.54, 0.541, 0.542, 0.543, 0.544, 0.545, 0.546, 0.547, 0.548, 0.549, 0.55, 0.551, 0.552,
    0.553, 0.554, 0.555, 0.555, 0.556, 0.557, 0.557, 0.558, 0.559, 0.56, 0.56, 0.561, 0.562, 0.562, 0.563, 0.563, 0.564, 0.565, 0.565, 0.566,
]
h_dynafed = [
    0.25, 0.20, 0.15, 0.18, 0.14, 0.125, 0.20, 0.16, 0.20, 0.18, 0.24,
    0.20, 0.27, 0.23, 0.28, 0.24, 0.29, 0.47, 0.48, 0.485, 0.49,
    0.50, 0.505, 0.515, 0.52, 0.523, 0.527, 0.53, 0.534, 0.538, 0.54, 0.542, 0.545, 0.548, 0.55,
    0.551, 0.553, 0.554, 0.556, 0.557, 0.559, 0.56, 0.561, 0.562, 0.563, 0.564, 0.565, 0.566, 0.567, 0.567, 0.568, 0.568, 0.569, 0.57, 0.571,
    0.571, 0.572, 0.572, 0.573, 0.574, 0.574, 0.575, 0.575, 0.576, 0.576, 0.577, 0.577, 0.578, 0.578, 0.579, 0.579, 0.58, 0.58, 0.58, 0.58,
]
h_fedprox = [
    0.20, 0.25, 0.28, 0.30, 0.32, 0.33, 0.34, 0.35, 0.355, 0.36, 0.37,
    0.38, 0.39, 0.40, 0.41, 0.415, 0.42, 0.425, 0.43, 0.435, 0.44,
    0.448, 0.44, 0.41, 0.42, 0.435, 0.445, 0.45, 0.455, 0.46, 0.47, 0.475, 0.47, 0.45, 0.465,
    0.46, 0.445, 0.46, 0.47, 0.495, 0.49, 0.48, 0.475, 0.48, 0.47, 0.48, 0.45, 0.46, 0.48, 0.49, 0.50, 0.49, 0.50, 0.48, 0.47,
    0.46, 0.44, 0.47, 0.48, 0.47, 0.50, 0.53, 0.51, 0.47, 0.48, 0.485, 0.49, 0.50, 0.48, 0.50, 0.46, 0.48, 0.49, 0.52, 0.535,
]

i_hfldd = [
    0.35, 0.42, 0.45, 0.47, 0.485, 0.50, 0.51, 0.518, 0.525, 0.532, 0.538,
    0.548, 0.556, 0.563, 0.569, 0.574, 0.578, 0.582, 0.586, 0.589, 0.592,
    0.599, 0.604, 0.608, 0.612, 0.615, 0.618, 0.62, 0.622, 0.623, 0.624, 0.625, 0.626, 0.627, 0.627,
    0.628, 0.628, 0.628, 0.628, 0.628, 0.628, 0.628, 0.628, 0.628, 0.628, 0.628, 0.628, 0.628, 0.628, 0.628, 0.628, 0.628, 0.628, 0.628, 0.6275,
    0.6275, 0.6275, 0.6275, 0.6275, 0.6275, 0.627, 0.627, 0.627, 0.627, 0.627, 0.627, 0.627, 0.627, 0.6265, 0.6265, 0.6265, 0.6265, 0.6265, 0.6265, 0.626,
]
i_fedavg = [
    0.30, 0.37, 0.41, 0.43, 0.45, 0.465, 0.478, 0.488, 0.497, 0.505, 0.512,
    0.523, 0.533, 0.542, 0.55, 0.557, 0.563, 0.569, 0.574, 0.579, 0.583,
    0.593, 0.601, 0.608, 0.613, 0.618, 0.622, 0.626, 0.629, 0.632, 0.635, 0.637, 0.639, 0.641, 0.642,
    0.643, 0.644, 0.645, 0.646, 0.646, 0.647, 0.647, 0.648, 0.648, 0.648, 0.648, 0.648, 0.648, 0.648, 0.648, 0.648, 0.648, 0.648, 0.648, 0.648,
    0.648, 0.647, 0.648, 0.647, 0.647, 0.647, 0.647, 0.647, 0.647, 0.647, 0.646, 0.647, 0.646, 0.646, 0.646, 0.646, 0.645, 0.645, 0.645, 0.645,
]
i_fedseq = [
    0.45, 0.50, 0.53, 0.55, 0.56, 0.57, 0.58, 0.585, 0.59, 0.595, 0.60,
    0.608, 0.615, 0.62, 0.625, 0.63, 0.633, 0.636, 0.638, 0.641, 0.643,
    0.646, 0.649, 0.651, 0.652, 0.653, 0.654, 0.655, 0.655, 0.654, 0.653, 0.653, 0.652, 0.651, 0.65,
    0.65, 0.649, 0.649, 0.648, 0.648, 0.647, 0.647, 0.646, 0.646, 0.645, 0.645, 0.644, 0.644, 0.644, 0.644, 0.643, 0.643, 0.643, 0.643, 0.642,
    0.642, 0.642, 0.641, 0.641, 0.641, 0.641, 0.641, 0.640, 0.641, 0.640, 0.640, 0.640, 0.640, 0.639, 0.640, 0.640, 0.640, 0.640, 0.640, 0.640,
]
i_dynafed = [
    0.30, 0.38, 0.42, 0.44, 0.46, 0.475, 0.485, 0.495, 0.505, 0.512, 0.52,
    0.53, 0.54, 0.548, 0.556, 0.563, 0.568, 0.574, 0.578, 0.583, 0.587,
    0.596, 0.603, 0.609, 0.614, 0.619, 0.623, 0.627, 0.631, 0.635, 0.638, 0.641, 0.643, 0.645, 0.647,
    0.648, 0.65, 0.651, 0.652, 0.653, 0.654, 0.655, 0.656, 0.656, 0.657, 0.657, 0.658, 0.658, 0.658, 0.659, 0.659, 0.659, 0.659, 0.659, 0.659,
    0.658, 0.658, 0.658, 0.657, 0.658, 0.657, 0.657, 0.657, 0.656, 0.657, 0.657, 0.656, 0.656, 0.657, 0.656, 0.655, 0.656, 0.655, 0.655, 0.655,
]
i_fedprox = [
    0.25, 0.30, 0.33, 0.355, 0.375, 0.39, 0.405, 0.415, 0.425, 0.432, 0.44,
    0.452, 0.463, 0.472, 0.48, 0.488, 0.494, 0.50, 0.505, 0.51, 0.515,
    0.525, 0.534, 0.541, 0.548, 0.554, 0.559, 0.564, 0.569, 0.573, 0.577, 0.581, 0.584, 0.587, 0.59,
    0.593, 0.596, 0.599, 0.601, 0.604, 0.606, 0.608, 0.61, 0.612, 0.614, 0.616, 0.617, 0.619, 0.62, 0.622, 0.623, 0.625, 0.626, 0.627, 0.628,
    0.629, 0.631, 0.632, 0.633, 0.634, 0.635, 0.636, 0.637, 0.638, 0.639, 0.64, 0.641, 0.641, 0.642, 0.643, 0.643, 0.644, 0.644, 0.645, 0.645,
]

# panel label, dataset, C, series in legend order
PANELS = [
    ("(a)", "MNIST", "1", [a_hfldd, cl_mnist, a_fedavg, a_fedseq, a_dynafed, a_fedprox]),
    ("(b)", "MNIST", "2", [b_hfldd, cl_mnist, b_fedavg, b_fedseq, b_dynafed, b_fedprox]),
    ("(c)", "MNIST", "10", [c_hfldd, cl_mnist, c_fedavg, c_fedseq, c_dynafed, c_fedprox]),
    ("(d)", "CIFAR10", "1", [d_hfldd, cl_cifar, d_fedavg, d_fedseq, d_dynafed, d_fedprox]),
    ("(e)", "CIFAR10", "2", [e_hfldd, cl_cifar, e_fedavg, e_fedseq, e_dynafed, e_fedprox]),
    ("(f)", "CIFAR10", "10", [f_hfldd, cl_cifar, f_fedavg, f_fedseq, f_dynafed, f_fedprox]),
    ("(g)", "CINIC10", "1", [g_hfldd, cl_cinic, g_fedavg, g_fedseq, g_dynafed, g_fedprox]),
    ("(h)", "CINIC10", "2", [h_hfldd, cl_cinic, h_fedavg, h_fedseq, h_dynafed, h_fedprox]),
    ("(i)", "CINIC10", "10", [i_hfldd, cl_cinic, i_fedavg, i_fedseq, i_dynafed, i_fedprox]),
]

Y_TICKS = [
    [0.2, 0.4, 0.6, 0.8, 1.0], [0.2, 0.4, 0.6, 0.8, 1.0], [0.2, 0.4, 0.6, 0.8, 1.0],
    [0.1, 0.2, 0.3, 0.4, 0.5, 0.6, 0.7, 0.8], [0.2, 0.3, 0.4, 0.5, 0.6, 0.7, 0.8], [0.4, 0.5, 0.6, 0.7, 0.8],
    [0.1, 0.2, 0.3, 0.4, 0.5, 0.6], [0.1, 0.2, 0.3, 0.4, 0.5, 0.6], [0.3, 0.4, 0.5, 0.6],
]


def rounds_for(ys):
    return ROUNDS_DENSE if len(ys) == len(ROUNDS_DENSE) else ROUNDS


for lab, ds, c, series in PANELS:
    for s in series:
        assert len(s) in (len(ROUNDS), len(ROUNDS_DENSE)), (lab, len(s))

# ---------------- layout geometry ----------------
# positions below are page pixels of the reference; the browser page has an
# 8 px body margin, so the figure itself is 8 px smaller and offset by it.
PAGE_MARGIN = 8
W, H = 1304 - PAGE_MARGIN, 1021 - PAGE_MARGIN
COLS = [(45.5, 403.0), (491.0, 848.5), (937.0, 1294.0)]
ROWS = [(12.5, 248.5), (361.0, 597.0), (709.0, 946.5)]
Y_RANGES = [
    (0.055, 1.036), (0.067, 1.036), (0.067, 1.036),
    (0.068, 0.864), (0.121, 0.863), (0.319, 0.853),
    (0.071, 0.699), (0.100, 0.695), (0.230, 0.691),
]
CAPTION_Y = [311, 659, 1006]
# inset: panel index -> (left, right, top, bottom) px, (ylo, yhi), ticks
INSETS = [
    (0, (196.0, 356.7, 138.3, 221.7), (0.94, 1.00), [0.94, 0.95, 0.96, 0.97, 0.98, 0.99, 1.00]),
    (1, (651.7, 831.0, 119.0, 215.0), (0.94, 1.00), [0.94, 0.95, 0.96, 0.97, 0.98, 0.99, 1.00]),
    (2, (1097.7, 1276.7, 119.0, 214.3), (0.94, 1.00), [0.94, 0.95, 0.96, 0.97, 0.98, 0.99, 1.00]),
    (5, (1097.7, 1276.7, 467.3, 562.3), (0.76, 0.84), [0.76, 0.77, 0.78, 0.79, 0.80, 0.81, 0.82, 0.83, 0.84]),
    (8, (1097.7, 1276.7, 815.7, 910.7), (0.62, 0.68), [0.62, 0.63, 0.64, 0.65, 0.66, 0.67, 0.68]),
]
# legend box geometry (px), entries laid out like the reference
LEG_W, LEG_H = 290.0, 12.6
LEG_LINE_X = [3, 54, 90, 140, 189, 241]
LEG_TEXT_X = [24, 75, 111, 160, 209, 262]
LEG_LINE_LEN = 15.5

SERIF = "Liberation Serif"
SANS = "Liberation Sans"
GRID = "#b0b0b0"


def px2x(px):
    return (px - PAGE_MARGIN) / W


def px2y(py):
    return 1 - (py - PAGE_MARGIN) / H


def ax_name(n, letter):
    return f"{letter}axis" if n == 1 else f"{letter}axis{n}"


def ax_ref(n, letter):
    return letter if n == 1 else f"{letter}{n}"


fig = go.Figure()
layout = {}
annotations = []
shapes = []

axis_common = dict(
    showline=True, linecolor="black", linewidth=1, mirror=True,
    ticks="outside", tickcolor="black", tickwidth=0.8,
    showgrid=True, gridcolor=GRID, gridwidth=0.7, griddash="3px,2px",
    zeroline=False,
)

for k, (lab, ds, c, series) in enumerate(PANELS):
    n = k + 1
    l, r = COLS[k % 3]
    t, b = ROWS[k // 3]
    for name, color, width, ys in zip(SERIES, COLORS, WIDTHS, series):
        fig.add_trace(go.Scatter(
            x=rounds_for(ys), y=ys, mode="lines", name=name,
            line=dict(color=color, width=width),
            xaxis=ax_ref(n, "x"), yaxis=ax_ref(n, "y"), showlegend=False,
        ))
    layout[ax_name(n, "x")] = dict(
        axis_common, domain=[px2x(l), px2x(r)], anchor=ax_ref(n, "y"), range=[0, 300],
        tickvals=X_TICKS, ticklen=3.5, ticklabelstandoff=-3,
        tickfont=dict(family=SERIF, size=11, color="black"),
        title=dict(text="Communication round", font=dict(family=SERIF, size=13, color="black"), standoff=3),
    )
    layout[ax_name(n, "y")] = dict(
        axis_common, domain=[px2y(b), px2y(t)], anchor=ax_ref(n, "x"), range=list(Y_RANGES[k]),
        tickvals=Y_TICKS[k], tickformat=".1f", ticklen=3.5, ticklabelstandoff=-1,
        tickfont=dict(family=SERIF, size=11, color="black"),
        title=dict(text="Test accuracy", font=dict(family=SERIF, size=13, color="black"), standoff=2),
    )
    # per-panel legend box (lower centre, one row)
    cx = (l + r) / 2
    bx0 = cx - LEG_W / 2
    by1 = b - 2
    by0 = by1 - LEG_H
    ymid = px2y((by0 + by1) / 2)
    shapes.append(dict(type="rect", xref="paper", yref="paper",
                       x0=px2x(bx0), x1=px2x(bx0 + LEG_W), y0=px2y(by1), y1=px2y(by0),
                       line=dict(color="black", width=0.9), fillcolor="white"))
    for i, (name, color, width) in enumerate(zip(SERIES, COLORS, WIDTHS)):
        shapes.append(dict(type="line", xref="paper", yref="paper",
                           x0=px2x(bx0 + LEG_LINE_X[i]), x1=px2x(bx0 + LEG_LINE_X[i] + LEG_LINE_LEN),
                           y0=ymid, y1=ymid, line=dict(color=color, width=width)))
        annotations.append(dict(
            x=px2x(bx0 + LEG_TEXT_X[i]), y=ymid, xref="paper", yref="paper",
            text=name, showarrow=False, xanchor="left", yanchor="middle",
            borderpad=0, font=dict(family=SERIF, size=7, color="black"),
        ))
    annotations.append(dict(
        x=px2x((l + r) / 2 - 13), y=px2y(CAPTION_Y[k // 3]), xref="paper", yref="paper",
        text=f"{lab} {ds} <span style='font-family:{SERIF}'>(<i>C</i> = {c})</span>",
        showarrow=False, xanchor="center", yanchor="middle",
        font=dict(family=SANS, size=26, color="black"),
    ))


def to_paper(k, xv, yv):
    l, r = COLS[k % 3]
    t, b = ROWS[k // 3]
    y0, y1 = Y_RANGES[k]
    px = l + (xv - 0) / 300 * (r - l)
    py = b - (yv - y0) / (y1 - y0) * (b - t)
    return px2x(px), px2y(py)


for j, (k, (il, ir, it, ib), (ylo, yhi), yt) in enumerate(INSETS):
    n = 10 + j
    series = PANELS[k][3]
    for name, color, width, ys in zip(SERIES, COLORS, WIDTHS, series):
        fig.add_trace(go.Scatter(
            x=rounds_for(ys), y=ys, mode="lines", name=name,
            line=dict(color=color, width=1.0),
            xaxis=ax_ref(n, "x"), yaxis=ax_ref(n, "y"), showlegend=False,
        ))
    layout[ax_name(n, "x")] = dict(
        axis_common, domain=[px2x(il), px2x(ir)], anchor=ax_ref(n, "y"), range=[200, 300],
        tickvals=INSET_X_TICKS, ticklen=2,
        tickfont=dict(family=SERIF, size=5, color="black"),
    )
    layout[ax_name(n, "y")] = dict(
        axis_common, domain=[px2y(ib), px2y(it)], anchor=ax_ref(n, "x"), range=[ylo, yhi],
        tickvals=yt, tickformat=".2f", ticklen=2,
        tickfont=dict(family=SERIF, size=5, color="black"),
    )
    mn = k + 1
    shapes.append(dict(type="rect", xref=ax_ref(mn, "x"), yref=ax_ref(mn, "y"),
                       x0=200, x1=300, y0=ylo, y1=yhi,
                       line=dict(color="#808080", width=1), fillcolor="rgba(0,0,0,0)"))
    ax1, ay1 = to_paper(k, 200, yhi)
    ax2, ay2 = to_paper(k, 300, ylo)
    shapes.append(dict(type="line", xref="paper", yref="paper",
                       x0=px2x(il), y0=px2y(it), x1=ax1, y1=ay1,
                       line=dict(color="#808080", width=0.9)))
    shapes.append(dict(type="line", xref="paper", yref="paper",
                       x0=px2x(ir), y0=px2y(ib), x1=ax2, y1=ay2,
                       line=dict(color="#808080", width=0.9)))

fig.update_layout(
    width=W, height=H, autosize=False,
    margin=dict(l=0, r=0, t=0, b=0, autoexpand=False),
    paper_bgcolor="white", plot_bgcolor="white",
    showlegend=False,
    annotations=annotations, shapes=shapes,
    **layout,
)

fig.write_html("out.html")
